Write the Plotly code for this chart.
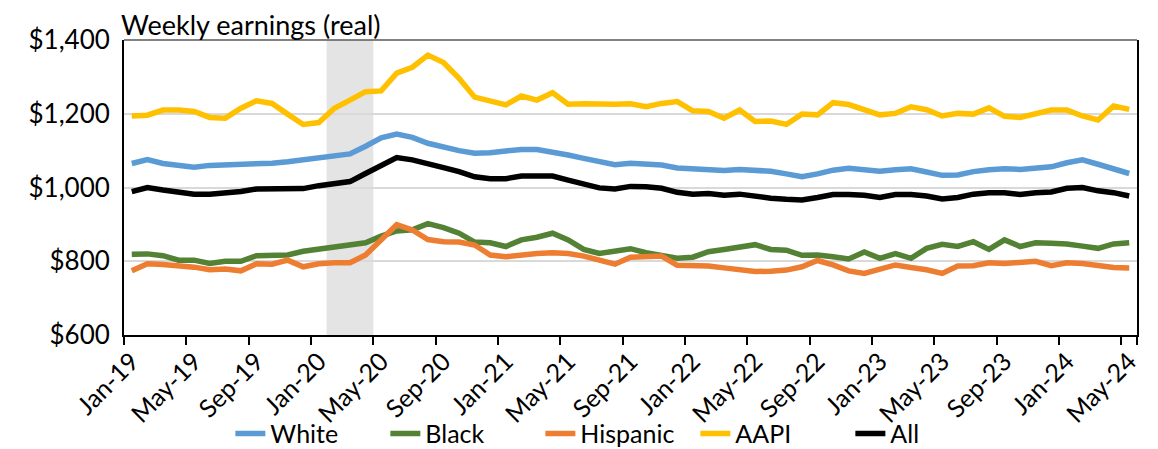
import pandas as pd
import plotly.graph_objects as go

months = list(pd.date_range("2019-01-01", "2024-05-01", freq="MS").strftime("%b-%y"))

white = [1065, 1076, 1065, 1059, 1055, 1060, 1061, 1064, 1065, 1066, 1070, 1075, 1082,
         1086, 1091, 1112, 1135, 1145, 1136, 1120, 1109, 1100, 1093, 1094, 1099, 1103,
         1103, 1097, 1088, 1079, 1069, 1062, 1066, 1065, 1061, 1053, 1050, 1050, 1046,
         1049, 1047, 1044, 1037, 1029, 1037, 1047, 1052, 1049, 1044, 1048, 1051, 1042,
         1033, 1034, 1043, 1048, 1051, 1049, 1051, 1056, 1067, 1075, 1063, 1050, 1038]
black = [819, 820, 815, 803, 803, 794, 800, 800, 815, 816, 817, 827, 833,
         836, 842, 850, 868, 882, 885, 902, 891, 876, 852, 850, 840, 858,
         865, 876, 858, 832, 821, 829, 834, 823, 814, 808, 811, 826, 832,
         840, 845, 832, 830, 816, 817, 812, 806, 825, 808, 821, 808, 835,
         846, 840, 853, 832, 858, 840, 850, 849, 847, 841, 835, 847, 850]
hispanic = [774, 793, 791, 789, 784, 777, 779, 774, 793, 792, 803, 785, 793,
            796, 796, 817, 858, 899, 885, 859, 853, 852, 844, 817, 812, 817,
            821, 823, 821, 814, 803, 792, 811, 814, 814, 789, 789, 787, 782,
            778, 772, 773, 776, 785, 802, 790, 774, 767, 778, 790, 783, 777,
            767, 787, 788, 796, 794, 796, 800, 788, 796, 794, 789, 783, 782]
aapi = [1194, 1196, 1210, 1210, 1206, 1190, 1188, 1215, 1235, 1228, 1199, 1171, 1176,
        1215, 1237, 1260, 1262, 1310, 1326, 1359, 1339, 1296, 1245, 1235, 1224, 1248,
        1237, 1257, 1226, 1227, 1225, 1226, 1227, 1219, 1228, 1233, 1208, 1206, 1188,
        1210, 1179, 1180, 1171, 1199, 1197, 1230, 1225, 1210, 1197, 1201, 1219, 1211,
        1194, 1201, 1199, 1216, 1193, 1190, 1201, 1210, 1210, 1194, 1183, 1221, 1212]
all_workers = [989, 1000, 993, 988, 982, 982, 985, 989, 996, 997, 998, 997, 1005,
               1009, 1016, 1038, 1061, 1081, 1075, 1066, 1054, 1043, 1029, 1024, 1024, 1031,
               1032, 1031, 1020, 1009, 999, 996, 1003, 1002, 998, 987, 982, 984, 979,
               982, 975, 971, 968, 966, 973, 981, 981, 979, 973, 981, 981, 977,
               969, 973, 982, 986, 986, 981, 986, 988, 998, 1000, 991, 986, 977]

series_names = ["White", "Black", "Hispanic", "AAPI", "All"]
series_values = [white, black, hispanic, aapi, all_workers]
series_colors = ["#5B9BD5", "#548235", "#ED7D31", "#FFC000", "#000000"]

recession_start = "Feb-20"
recession_end = "Apr-20"
tick_labels = months[::4]

FONT = "Lato"

fig = go.Figure()
for name, vals, col in zip(series_names, series_values, series_colors):
    fig.add_trace(go.Scatter(x=months, y=vals, name=name, mode="lines",
                             line=dict(color=col, width=5.5)))

i0 = months.index(recession_start)
i1 = months.index(recession_end)
fig.add_shape(type="rect", xref="x", yref="y domain", x0=i0 - 0.5, x1=i1 + 0.5,
              y0=0, y1=1, fillcolor="#E4E4E4", line=dict(width=0), layer="below")
# thin top border
fig.add_shape(type="line", xref="paper", yref="paper", x0=0, x1=1, y0=1, y1=1,
              line=dict(color="#595959", width=1.5))

fig.add_annotation(text="Weekly earnings (real)", xref="paper", yref="paper",
                   x=-0.005, y=1.0, xanchor="left", yanchor="bottom", yshift=-3,
                   showarrow=False, font=dict(family=FONT, size=27, color="#000000"))

# page body adds an 8px offset; size the figure to fit the 1158x449 window
fig.update_layout(
    width=1150, height=441,
    margin=dict(l=116, r=21, t=32, b=114, autoexpand=False),
    paper_bgcolor="white", plot_bgcolor="white",
    font=dict(family=FONT, size=24, color="#000000"),
    showlegend=True,
    legend=dict(orientation="h", x=0.105, y=-0.335, xanchor="left", yanchor="middle",
                bgcolor="rgba(0,0,0,0)", font=dict(family=FONT, size=25),
                itemwidth=30, entrywidth=110, entrywidthmode="pixels",
                tracegroupgap=0, traceorder="normal"),
)
fig.update_xaxes(type="category", categoryorder="array", categoryarray=months,
                 range=[-0.5, len(months) - 0.5], automargin=False,
                 tickmode="array", tickvals=tick_labels, ticktext=tick_labels,
                 tickson="boundaries", tickangle=-45,
                 ticks="outside", ticklen=8, tickwidth=2, tickcolor="#000000",
                 showgrid=False, showline=True, linecolor="#000000", linewidth=2,
                 tickfont=dict(family=FONT, size=25))
fig.update_yaxes(range=[600, 1400], dtick=200, tickformat="$,.0f", automargin=False,
                 showgrid=True, gridcolor="#D9D9D9", gridwidth=1.5,
                 zeroline=False, showline=True, linecolor="#000000", linewidth=2,
                 mirror=True, ticks="", ticklabelstandoff=7,
                 tickfont=dict(family=FONT, size=26))

fig.write_html("out.html")
